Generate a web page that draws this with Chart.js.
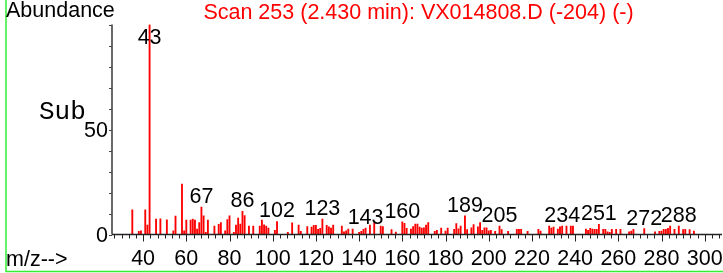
<!DOCTYPE html>
<html>
<head>
<meta charset="utf-8">
<script src="https://cdn.jsdelivr.net/npm/chart.js@4/dist/chart.umd.min.js"></script>
<style>
  html, body { margin: 0; padding: 0; background: #fff; }
</style>
</head>
<body>
<canvas id="spectrum" width="723" height="273"></canvas>
<script>
// m/z of every line in the spectrum, and its abundance (% of base peak)
const massValues = [
  35, 38, 39, 41, 42, 43, 46, 48, 51, 54, 55, 58, 59, 60, 62, 63, 64, 65, 66, 67,
  68, 69, 70, 73, 75, 76, 78, 79, 80, 82, 83, 84, 85, 86, 87, 89, 91, 94, 95, 96,
  97, 98, 101, 102, 107, 109, 112, 113, 116, 118, 119, 120, 121, 122, 123, 125, 126, 127, 128, 132,
  133, 134, 135, 137, 140, 141, 142, 143, 145, 147, 150, 151, 155, 157, 160, 161, 162, 164, 165, 166,
  167, 168, 169, 170, 171, 172, 175, 176, 178, 180, 181, 184, 185, 186, 187, 189, 190, 192, 193, 195,
  196, 197, 198, 199, 200, 201, 203, 205, 206, 209, 213, 214, 215, 218, 223, 224, 228, 229, 230, 232,
  233, 234, 236, 238, 239, 245, 246, 247, 248, 249, 250, 251, 253, 254, 255, 256, 257, 259, 261, 265,
  266, 267, 272, 277, 279, 280, 281, 282, 283, 284, 286, 288, 290, 291, 293, 295
]
const abundances = [
  11.8, 1.5, 1.8, 11.8, 4.5, 100, 7.4, 7.5, 7, 1.7, 8.8, 24, 1.7, 6.9, 6.9, 7.4, 6.9, 2.6, 5.7, 13,
  8.9, 1, 6.9, 4, 4.8, 5.7, 1.7, 7.1, 8.9, 1, 4.5, 7.8, 5, 11, 9, 4, 4, 4, 6.9, 4.6,
  4, 3, 2, 6.2, 1, 5.5, 4.5, 1.5, 3.8, 3.5, 4.4, 4.4, 2.5, 2.9, 7.3, 4.4, 3.7, 3, 4.5, 4,
  1.3, 1.7, 2.6, 2.6, 1, 1.5, 2.5, 3, 4.5, 5.5, 4, 3.8, 2.4, 1.2, 6, 5.3, 2.9, 2.6, 3.8, 5,
  5, 3.5, 3, 3.2, 4.5, 5.7, 1.5, 2, 3, 1.6, 3, 2.5, 5.2, 2.7, 4, 8.9, 2.3, 3.2, 4.7, 3.7,
  5.7, 2, 3.2, 3.2, 1.8, 2, 1.5, 4, 2.3, 1.5, 2.5, 2.5, 2.5, 1.5, 2.5, 1.6, 4, 3, 3.5, 2.6,
  3.7, 4, 4, 4, 4, 2.6, 2, 2.9, 2.6, 2.5, 2.5, 4.8, 2.5, 2.5, 1.3, 1, 2.5, 2.5, 2.5, 1.3,
  1.6, 2.5, 2.8, 1.3, 1.5, 1.6, 2.5, 2.5, 2.9, 4, 2.5, 4, 2.3, 2.5, 2.3, 1.6
]
const labelledPeaks = [43, 67, 86, 102, 123, 143, 160, 189, 205, 234, 251, 272, 288]
const xTickLabels = [40, 60, 80, 100, 120, 140, 160, 180, 200, 220, 240, 260, 280, 300]
const yTickLabels = [0, 50]
const titleText = "Scan 253 (2.430 min): VX014808.D (-204) (-)"

const sansFont = "'Liberation Sans', Arial, sans-serif"
const textSize = 21.5

const spectrumDecor = {
  id: 'spectrumDecor',
  afterDraw(chart) {
    const ctx = chart.ctx
    const area = chart.chartArea
    const x = chart.scales.x
    const y = chart.scales.y
    const x0 = area.left
    const y0 = y.getPixelForValue(0)
    const yTop = y.getPixelForValue(100)
    ctx.save()

    // green frame
    ctx.strokeStyle = '#33ee33'
    ctx.lineWidth = 1.5
    ctx.beginPath()
    ctx.moveTo(6, 0)
    ctx.lineTo(6, 271.5)
    ctx.lineTo(723, 271.5)
    ctx.stroke()

    // y axis
    ctx.strokeStyle = '#444'
    ctx.lineWidth = 1.6
    ctx.beginPath()
    ctx.moveTo(x0, yTop)
    ctx.lineTo(x0, y0)
    ctx.stroke()
    ctx.lineWidth = 1
    for (let v = 0; v <= 100; v += 10) {
      const py = Math.round(y.getPixelForValue(v)) + 0.5
      ctx.beginPath()
      ctx.moveTo(x0 - 3, py)
      ctx.lineTo(x0, py)
      ctx.stroke()
    }

    // x axis
    ctx.strokeStyle = '#222'
    ctx.lineWidth = 1.6
    ctx.beginPath()
    ctx.moveTo(x0, y0)
    ctx.lineTo(area.right, y0)
    ctx.stroke()
    ctx.lineWidth = 1
    const minorStep = 20 / 6
    for (let k = Math.ceil(x.min / minorStep); k * minorStep <= x.max; k++) {
      const px = Math.round(x.getPixelForValue(k * minorStep)) + 0.5
      const major = k % 6 === 0
      ctx.beginPath()
      ctx.moveTo(px, y0)
      ctx.lineTo(px, y0 + (major ? 7 : 4))
      ctx.stroke()
    }

    ctx.fillStyle = '#000'
    ctx.font = textSize + 'px ' + sansFont
    ctx.textAlign = 'center'
    ctx.textBaseline = 'alphabetic'
    xTickLabels.forEach(t => {
      ctx.fillText(String(t), x.getPixelForValue(t), 265)
    })

    ctx.textAlign = 'right'
    yTickLabels.forEach(t => {
      ctx.fillText(String(t), x0 - 4, y.getPixelForValue(t) + 7.5)
    })

    // peak labels
    ctx.textAlign = 'center'
    labelledPeaks.forEach(m => {
      const i = massValues.indexOf(m)
      const top = y.getPixelForValue(abundances[i])
      const base = Math.max(top - 4, area.top + 19)
      ctx.fillText(String(m), x.getPixelForValue(m), base)
    })

    // captions
    ctx.textAlign = 'left'
    ctx.fillText('Abundance', 6, 17)
    ctx.fillText('m/z-->', 6, 266)
    ctx.font = "26px 'Liberation Mono', 'Courier New', monospace"
    ctx.fillText('Sub', 39, 119)

    ctx.fillStyle = '#ff0000'
    ctx.font = textSize + 'px ' + sansFont
    ctx.textAlign = 'center'
    ctx.fillText(titleText, 418.5, 19)
    ctx.restore()
  }
}

const spectrum = new Chart("spectrum", {
  type: "bar",
  data: {
    datasets: [{
      data: massValues.map((m, i) => ({ x: m, y: abundances[i] })),
      backgroundColor: "#ff0000",
      borderWidth: 0,
      barThickness: 1.2,
    }]
  },
  options: {
    responsive: false,
    animation: false,
    layout: { padding: { left: 112, right: 1, top: 24.5, bottom: 38.5 } },
    plugins: {
      legend: { display: false },
      tooltip: { enabled: false },
      title: { display: false }
    },
    scales: {
      x: { type: "linear", min: 25.6, max: 308, offset: false, display: false },
      y: { min: 0, max: 100, display: false }
    }
  },
  plugins: [spectrumDecor]
})
</script>
</body>
</html>
